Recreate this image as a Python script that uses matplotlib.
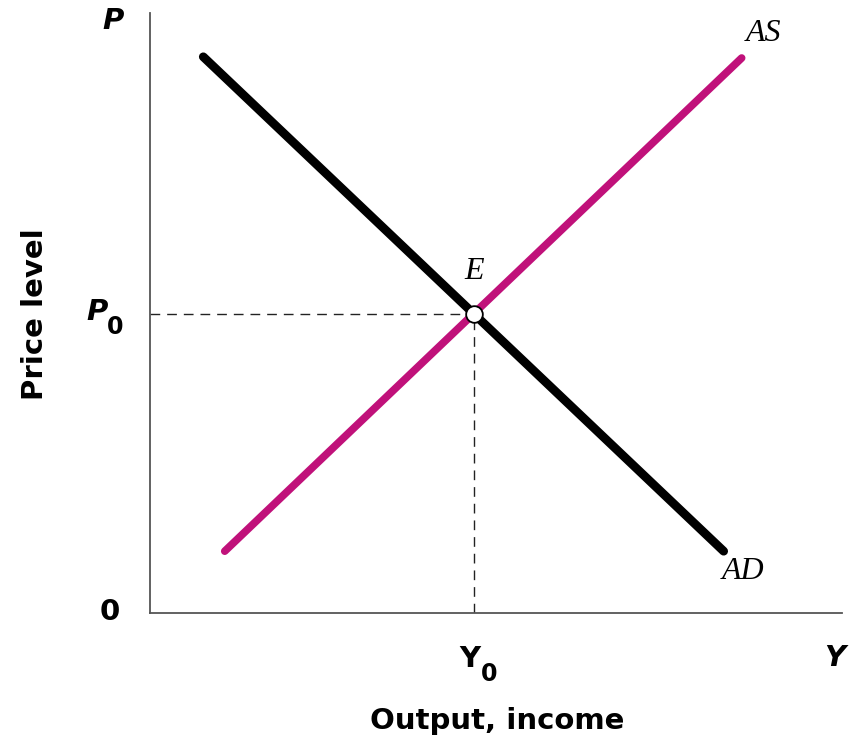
import matplotlib
matplotlib.use("Agg")
import matplotlib.pyplot as plt

# curve end points (output, price level), axes run 0..100
ad_y = [7.7, 82.9]
ad_p = [92.7, 10.3]
as_y = [10.8, 85.5]
as_p = [10.3, 92.5]
# equilibrium
e_y = 46.8
e_p = 49.9

magenta = "#c0117a"
bold_font = "DejaVu Sans"
serif_font = "Liberation Serif"

fig = plt.figure(figsize=(8.54, 7.40), dpi=100)
ax = fig.add_axes([150 / 854, 127 / 740, 692 / 854, 600 / 740])
ax.set_xlim(0, 100)
ax.set_ylim(0, 100)

for s in ["top", "right"]:
    ax.spines[s].set_visible(False)
for s in ["left", "bottom"]:
    ax.spines[s].set_color("#555555")
    ax.spines[s].set_linewidth(1.3)
ax.set_xticks([])
ax.set_yticks([])

# dashed guides to the equilibrium
ax.plot([0, e_y], [e_p, e_p], color="#222222", lw=1.0, ls=(0, (7, 5)))
ax.plot([e_y, e_y], [0, e_p], color="#222222", lw=1.0, ls=(0, (7, 5)))

ax.plot(ad_y, ad_p, color="black", lw=6.3, solid_capstyle="round")
ax.plot(as_y, as_p, color=magenta, lw=5.5, solid_capstyle="round")
ax.plot([e_y], [e_p], "o", ms=12, mfc="white", mec="black", mew=1.3, zorder=5)

# curve labels
ax.text(e_y, e_p + 4.6, "E", family=serif_font, style="italic", fontsize=23,
        ha="center", va="bottom")
ax.text(as_y[1] + 0.6, as_p[1] + 1.6, "AS", family=serif_font, style="italic",
        fontsize=23, ha="left", va="bottom")
ax.text(ad_y[1] - 0.3, ad_p[1] - 1.0, "AD", family=serif_font, style="italic",
        fontsize=23, ha="left", va="top")


def lab(x, y, s, size=21, **k):
    fig.text(x / 854, 1 - y / 740, s, family=bold_font, weight="bold",
             fontsize=size, ha="center", va="center", **k)


lab(113, 21, "P", style="italic")
lab(110, 612, "0")
lab(97, 312, "P", style="italic")
lab(115, 327, "0", size=17)
lab(470, 659, "Y")
lab(489, 674, "0", size=17)
lab(835, 658, "Y", style="italic")
lab(497, 721, "Output, income")
lab(35, 314, "Price level", rotation=90)

fig.savefig("out.png", dpi=100, facecolor="white")
